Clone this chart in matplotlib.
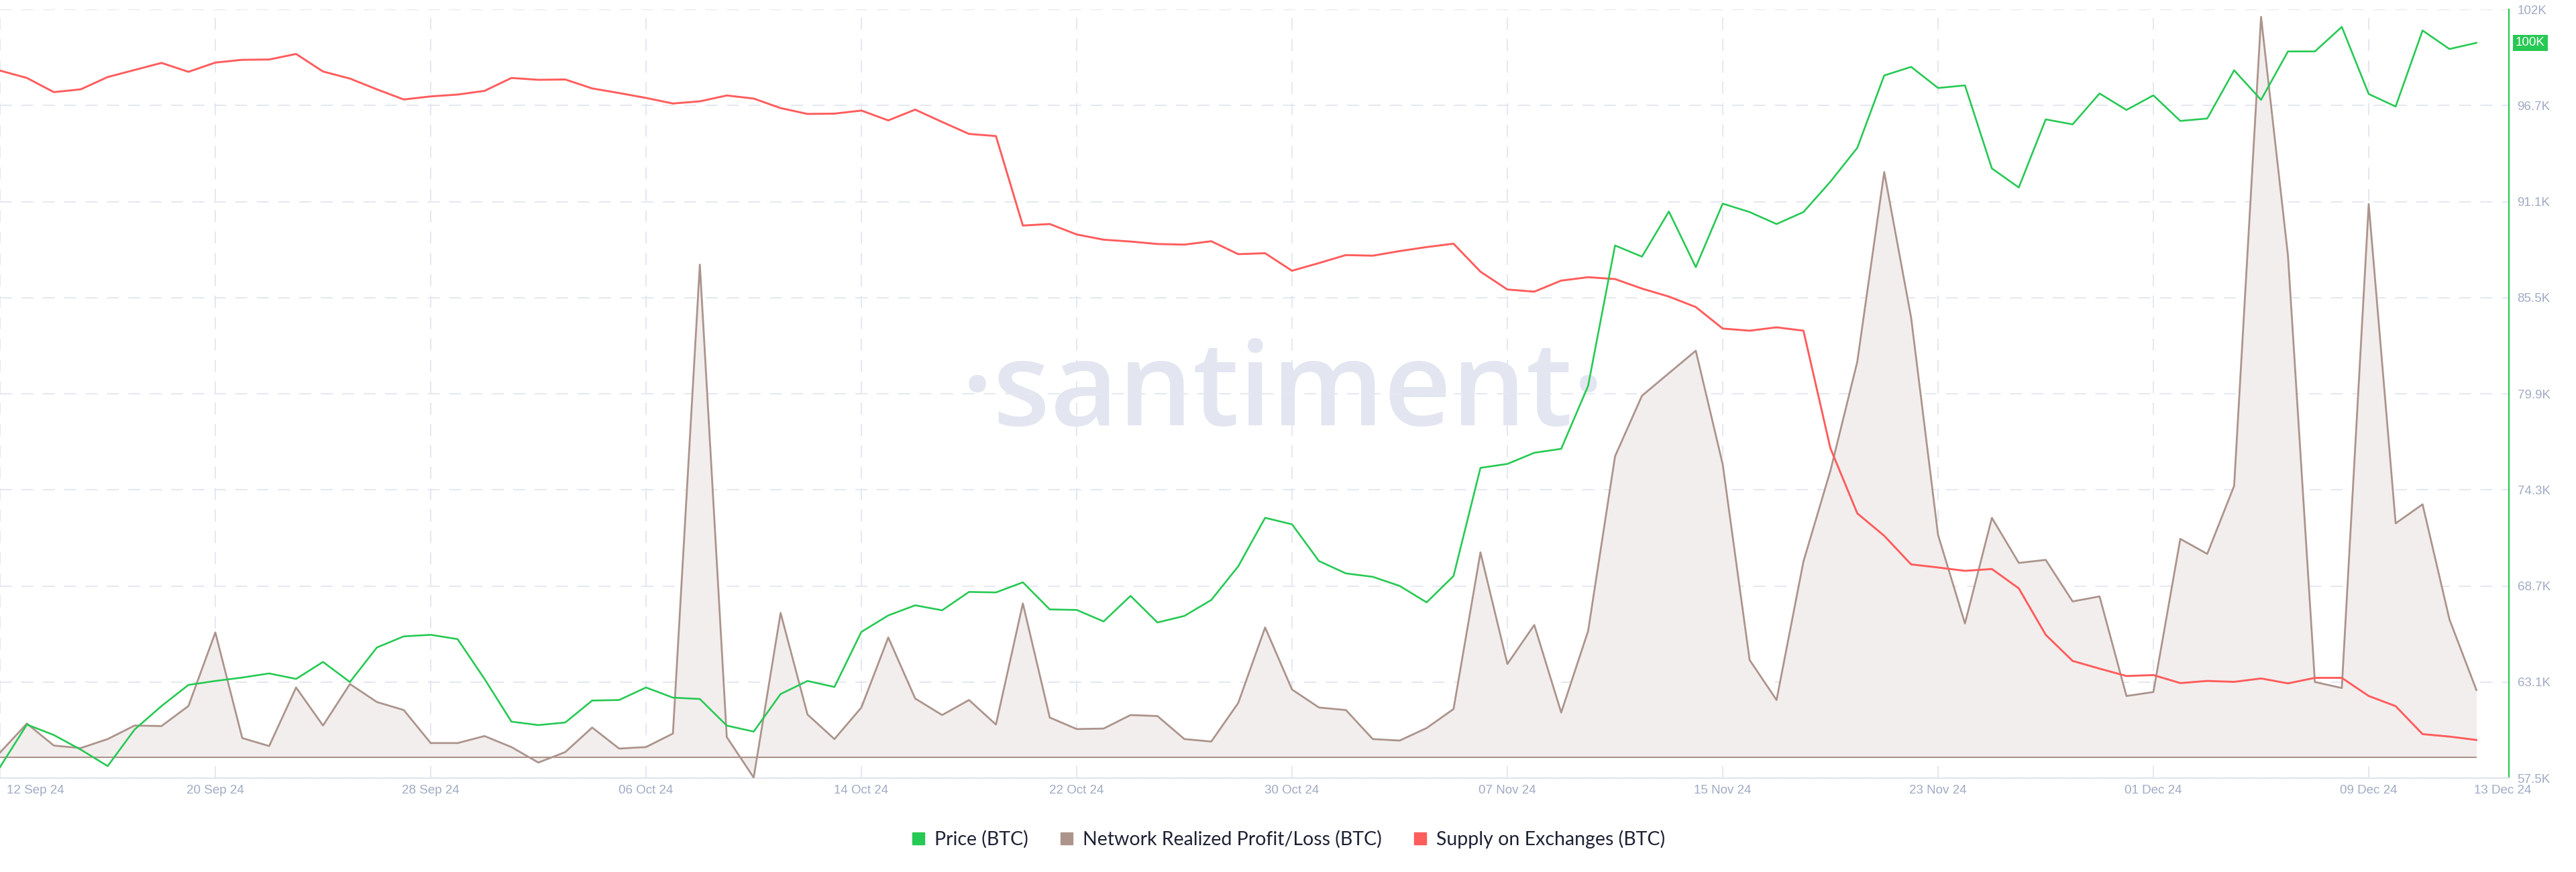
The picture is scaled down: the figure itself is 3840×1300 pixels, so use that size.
import numpy as np
import pandas as pd
import matplotlib
matplotlib.use('Agg')
import matplotlib.pyplot as plt
from matplotlib.lines import Line2D
from matplotlib.transforms import ScaledTranslation

# daily values, 12 Sep 24 .. 13 Dec 24
start_date = '2024-09-12'

price_k = [58.14, 60.62, 60.01, 59.16, 58.20, 60.33, 61.70, 62.93, 63.16, 63.36,
           63.60, 63.28, 64.27, 63.10, 65.11, 65.76, 65.85, 65.60, 63.28, 60.79,
           60.59, 60.74, 62.02, 62.05, 62.78, 62.19, 62.11, 60.56, 60.21, 62.40,
           63.16, 62.81, 66.02, 66.98, 67.57, 67.28, 68.35, 68.32, 68.91, 67.33,
           67.30, 66.63, 68.12, 66.57, 66.95, 67.88, 69.84, 72.67, 72.29, 70.15,
           69.43, 69.23, 68.70, 67.74, 69.28, 75.58, 75.81, 76.46, 76.69, 80.36,
           88.54, 87.89, 90.52, 87.28, 90.98, 90.49, 89.79, 90.49, 92.26, 94.23,
           98.45, 98.95, 97.72, 97.87, 93.03, 91.92, 95.89, 95.60, 97.40, 96.44,
           97.29, 95.80, 95.94, 98.75, 97.03, 99.85, 99.85, 101.28, 97.37, 96.64,
           101.07, 99.99, 100.35]

# supply on exchanges, million BTC
supply_m = [2.2301, 2.2277, 2.2231, 2.2240, 2.2280, 2.2303, 2.2326, 2.2297, 2.2327, 2.2336,
            2.2337, 2.2355, 2.2298, 2.2275, 2.2240, 2.2207, 2.2217, 2.2223, 2.2235, 2.2277,
            2.2271, 2.2272, 2.2243, 2.2228, 2.2212, 2.2194, 2.2201, 2.2220, 2.2210, 2.2179,
            2.2160, 2.2161, 2.2171, 2.2139, 2.2174, 2.2134, 2.2095, 2.2088, 2.1797, 2.1802,
            2.1768, 2.1751, 2.1745, 2.1737, 2.1735, 2.1746, 2.1704, 2.1707, 2.1650, 2.1675,
            2.1701, 2.1699, 2.1714, 2.1727, 2.1738, 2.1647, 2.1589, 2.1582, 2.1618, 2.1629,
            2.1623, 2.1592, 2.1566, 2.1532, 2.1462, 2.1455, 2.1466, 2.1455, 2.1073, 2.0861,
            2.0788, 2.0695, 2.0685, 2.0674, 2.0680, 2.0617, 2.0466, 2.0381, 2.0356, 2.0332,
            2.0335, 2.0309, 2.0316, 2.0313, 2.0324, 2.0308, 2.0326, 2.0326, 2.0267, 2.0234,
            2.0143, 2.0135, 2.0124]

# network realized profit/loss, thousand BTC
npl_k = [0.50, 3.40, 1.20, 0.95, 1.85, 3.20, 3.15, 5.15, 12.50, 1.95,
         1.15, 7.00, 3.20, 7.35, 5.55, 4.75, 1.45, 1.45, 2.15, 1.05,
         -0.50, 0.55, 3.00, 0.90, 1.05, 2.40, 49.25, 2.05, -2.00, 14.45,
         4.30, 1.85, 5.00, 12.00, 5.90, 4.25, 5.75, 3.30, 15.40, 4.00,
         2.85, 2.90, 4.25, 4.15, 1.85, 1.60, 5.45, 13.00, 6.80, 5.00,
         4.75, 1.85, 1.70, 2.95, 4.85, 20.50, 9.35, 13.25, 4.50, 12.65,
         30.10, 36.15, 38.40, 40.65, 29.30, 9.75, 5.75, 19.60, 28.65, 39.55,
         58.50, 43.95, 22.25, 13.40, 23.95, 19.45, 19.75, 15.60, 16.10, 6.15,
         6.55, 21.85, 20.35, 27.15, 74.00, 50.15, 7.55, 6.95, 55.30, 23.40,
         25.30, 13.80, 6.75]

price_ticks = [57.5, 63.1, 68.7, 74.3, 79.9, 85.5, 91.1, 96.7, 102.3]
price_tick_labels = ['57.5K', '63.1K', '68.7K', '74.3K', '79.9K', '85.5K', '91.1K', '96.7K', '102K']
legend_labels = ['Price (BTC)', 'Network Realized Profit/Loss (BTC)', 'Supply on Exchanges (BTC)']

GREEN = '#26c953'
BROWN = '#ac948c'
RED = '#ff5c5c'
FILL = '#f2eeed'
GRID = '#e6e8f1'
TICK = '#a0aac3'
DASH = (0, (8.6, 6.7))

dates = pd.date_range(start_date, periods=len(price_k), freq='D')
grid_dates = pd.date_range(start_date, dates[-1], freq='8D')

fig = plt.figure(figsize=(38.4, 13), dpi=100)
ax = fig.add_axes([0.0, 0.10769, 0.97396, 0.88154])
ax.patch.set_visible(False)

ax_n = ax.twinx()
ax_s = ax.twinx()
ax_p = ax.twinx()
for a in (ax_n, ax_s, ax_p):
    a.axis('off')

x_end = dates[-1] + pd.Timedelta(hours=29)
for a in (ax, ax_n, ax_s, ax_p):
    a.set_xlim(dates[0], x_end)
ax.set_ylim(57.5, 102.3)
ax_p.set_ylim(57.5, 102.3)
ax_s.set_ylim(2.00, 2.25)
ax_n.set_ylim(-2.05, 74.75)

# grid
ax.set_yticks(price_ticks, price_tick_labels)
ax.yaxis.tick_right()
ax.grid(axis='y', color=GRID, lw=1.5, ls=DASH)
for d in grid_dates:
    ax.axvline(d, color=GRID, lw=1.5, ls=DASH, zorder=0)

tick_dates = list(grid_dates) + [dates[-1]]
ax.set_xticks(tick_dates, [d.strftime('%d %b %y') for d in tick_dates])
ax.tick_params(axis='x', length=0, pad=7, labelsize=13.5, labelcolor=TICK)
ax.tick_params(axis='y', length=0, pad=9, labelsize=13.5, labelcolor=TICK)
for lab in ax.get_xticklabels() + ax.get_yticklabels():
    lab.set_family('Liberation Sans')
xl = ax.get_xticklabels()
xl[0].set_horizontalalignment('left')
xl[0].set_transform(xl[0].get_transform() + ScaledTranslation(0.10, 0, fig.dpi_scale_trans))
xl[-1].set_transform(xl[-1].get_transform() + ScaledTranslation(0.39, 0, fig.dpi_scale_trans))

for side in ('top', 'left'):
    ax.spines[side].set_visible(False)
ax.spines['bottom'].set_color('#e1e5ef')
ax.spines['bottom'].set_linewidth(1.6)
ax.spines['right'].set_color(GREEN)
ax.spines['right'].set_linewidth(1.6)

# watermark
ax.text(0.498, 0.5123, '\u00b7santiment\u00b7', transform=fig.transFigure, ha='center',
        va='baseline', fontsize=126, family='Open Sans', weight='semibold',
        color='#e3e6f0', zorder=0)

# series
ax_n.fill_between(dates, npl_k, 0, color=FILL, lw=0)
ax_n.hlines(0, dates[0], dates[-1], color=BROWN, lw=1.5)
ax_n.plot(dates, npl_k, color=BROWN, lw=2.0)
ax_s.plot(dates, supply_m, color=RED, lw=2.1)
ax_p.plot(dates, price_k, color=GREEN, lw=1.9)

# last price badge
ax.annotate(f'{price_k[-1]:.0f}K', xy=(1, price_k[-1]), xycoords=('axes fraction', 'data'),
            xytext=(10, 0), textcoords='offset pixels', ha='left', va='center',
            fontsize=13.5, family='Liberation Sans', color='white',
            bbox=dict(boxstyle='square,pad=0.2', fc=GREEN, ec='none'))

handles = [Line2D([], [], marker='s', ls='none', markersize=13, color=c) for c in (GREEN, BROWN, RED)]
fig.legend(handles, legend_labels, loc='center', bbox_to_anchor=(0.5, 0.0377), ncol=3,
           frameon=False, prop={'family': 'Lato', 'size': 20.5}, labelcolor='#1f2235',
           handlelength=0.8, handletextpad=0.45, columnspacing=1.6)

fig.savefig('out.png', dpi=100)
